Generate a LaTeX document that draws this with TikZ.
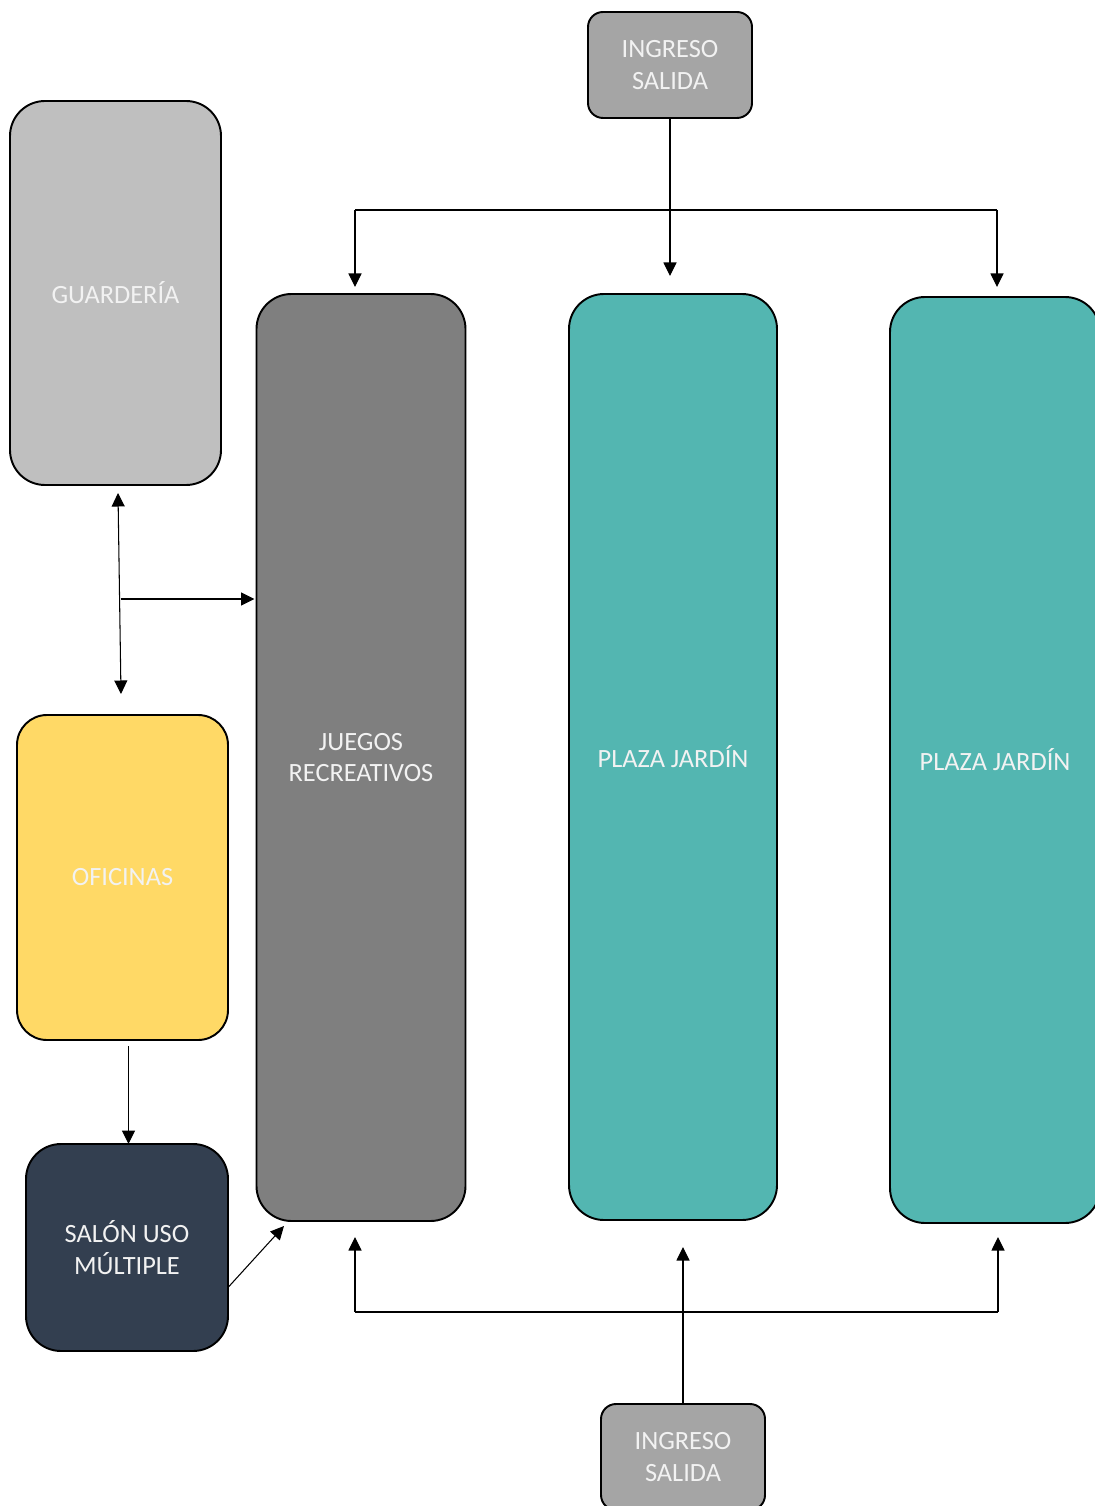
\documentclass[tikz,border=0pt]{standalone}
\usepackage{fontspec}
\setmainfont{Carlito}
\usetikzlibrary{arrows.meta,positioning}
\definecolor{accgray}{HTML}{A5A5A5}
\definecolor{guardgray}{HTML}{BFBFBF}
\definecolor{playgray}{HTML}{7F7F7F}
\definecolor{plazateal}{HTML}{53B6B1}
\definecolor{officeyellow}{HTML}{FFD966}
\definecolor{hallnavy}{HTML}{333F50}
\definecolor{labelwhite}{HTML}{F2F2F2}
\tikzset{
  zone/.style={draw, line width=1.1pt, rounded corners=0.7cm, align=center,
    text=labelwhite, font=\fontsize{15}{18}\selectfont, inner sep=2pt, outer sep=0pt},
  access/.style={zone, fill=accgray, rounded corners=0.3cm,
    minimum width=3.28cm, minimum height=2.12cm},
  flow/.style={-{Triangle[length=2.7mm,width=2.6mm]}, line width=0.6pt},
  bidir/.style={{Triangle[length=2.7mm,width=2.6mm]}-{Triangle[length=2.7mm,width=2.6mm]}, line width=0.6pt},
  bus/.style={line width=0.6pt},
}

\begin{document}
\begin{tikzpicture}
  \useasboundingbox (0,0) rectangle (21.88,-30.12);

  % entrances
  \node[access] (ingA) at (13.4,-1.3) {INGRESO\\SALIDA};
  \node[access] (ingB) at (13.66,-29.14) {INGRESO\\SALIDA};

  % areas
  \node[zone, fill=guardgray, minimum width=4.22cm, minimum height=7.68cm]
    (guard) at (2.31,-5.86) {GUARDERÍA};
  \node[zone, fill=officeyellow, rounded corners=0.6cm,
    minimum width=4.22cm, minimum height=6.5cm] (ofic) at (2.45,-17.55) {OFICINAS};
  \node[zone, fill=hallnavy, minimum width=4.04cm, minimum height=4.14cm]
    (salon) at (2.54,-24.95) {SALÓN USO\\MÚLTIPLE};
  \node[zone, fill=playgray, minimum width=4.18cm, minimum height=18.54cm]
    (juegos) at (7.22,-15.15) {JUEGOS\\RECREATIVOS};
  \node[zone, fill=plazateal, minimum width=4.16cm, minimum height=18.52cm]
    (plazaA) at (13.46,-15.14) {PLAZA JARDÍN};
  \node[zone, fill=plazateal, minimum width=4.2cm, minimum height=18.52cm]
    (plazaB) at (19.9,-15.2) {PLAZA JARDÍN};

  % top distribution
  \coordinate (nw) at (7.1,-4.2);
  \coordinate (ne) at (19.94,-4.2);
  \draw[bus] (nw) -- (ne);
  \draw[flow, shorten >=0.36cm] (ingA.south) -- (ingA.south |- plazaA.north);
  \draw[flow, shorten >=0.14cm] (nw) -- (nw |- juegos.north);
  \draw[flow, shorten >=0.2cm] (ne) -- (ne |- plazaB.north);

  % bottom distribution
  \coordinate (sw) at (7.1,-26.24);
  \coordinate (se) at (19.96,-26.24);
  \draw[bus] (sw) -- (se);
  \draw[flow, shorten >=0.54cm] (ingB.north) -- (ingB.north |- plazaA.south);
  \draw[flow, shorten >=0.32cm] (sw) -- (sw |- juegos.south);
  \draw[flow, shorten >=0.28cm] (se) -- (se |- plazaB.south);

  % left column links
  \coordinate (g1) at (2.36,-9.86);
  \coordinate (o1) at (2.42,-13.88);
  \coordinate (gmid) at (2.41,-11.98);
  \draw[bidir] (g1) -- (o1);
  \draw[flow, shorten >=0.04cm] (gmid) -- (gmid -| juegos.west);
  \draw[flow, shorten <=0.12cm] ([xshift=1.2mm]ofic.south)
    -- ([xshift=1.2mm]ofic.south |- salon.north);
  \draw[flow] ([yshift=-0.8cm]salon.east)
    -- ([xshift=-1.54cm,yshift=-0.1cm]juegos.south);
\end{tikzpicture}
\end{document}
